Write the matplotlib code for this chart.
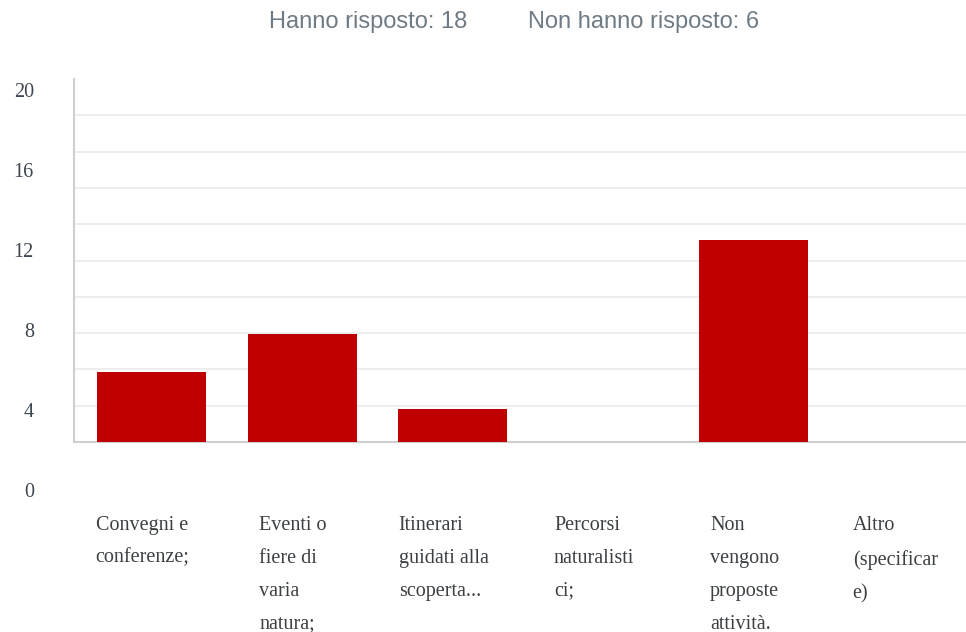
import matplotlib
matplotlib.use("Agg")
import matplotlib.pyplot as plt
import numpy as np

categories = [
    "Convegni e\nconferenze;",
    "Eventi o\nfiere di\nvaria\nnatura;",
    "Itinerari\nguidati alla\nscoperta...",
    "Percorsi\nnaturalisti\nci;",
    "Non\nvengono\nproposte\nattività.",
    "Altro\n(specificar\ne)",
]
counts = [6, 8, 4, 0, 13, 0]
tick_values = [0, 4, 8, 12, 16, 20]
answered = 18
not_answered = 6

W, H = 966, 632
fig = plt.figure(figsize=(W / 100, H / 100), dpi=100)


def frac(x0, y0, x1, y1):
    # pixel box (top-left origin) -> figure fraction rect
    return [x0 / W, 1 - y1 / H, (x1 - x0) / W, (y1 - y0) / H]


ax = fig.add_axes(frac(74, 79, 966, 442))
x = np.arange(len(categories))
ax.bar(x, counts, width=0.724, color="#c00000", zorder=3)

ymin, ymax = 2.26, 21.6
ax.set_ylim(ymin, ymax)
ax.set_xlim(-0.515, 5.41)

grid_y = np.linspace(ymin, ymax, 11)[1:-1]
for gy in grid_y:
    ax.axhline(gy, color="#ececec", lw=1.3, zorder=1)

ax.set_xticks([])
ax.set_yticks([])
for side in ["top", "right"]:
    ax.spines[side].set_visible(False)
for side in ["left", "bottom"]:
    ax.spines[side].set_color("#cfcfcf")
    ax.spines[side].set_linewidth(1.5)

serif = ["Liberation Serif", "DejaVu Serif"]
trans = ax.get_xaxis_transform()
for i, lab in enumerate(categories):
    ax.text(i - 0.06, -0.203, lab, transform=trans, ha="center", va="top",
            multialignment="left", fontsize=14.5, family=serif,
            color="#3c4043", linespacing=2.0)

# value labels column (drawn on its own axis)
lab_ax = fig.add_axes(frac(38, 90, 39, 490))
lab_ax.set_ylim(0, 20)
lab_ax.set_yticks(tick_values)
lab_ax.set_yticklabels([str(v) for v in tick_values], family=serif,
                       fontsize=14.5, color="#3d4752")
lab_ax.tick_params(axis="y", length=0, pad=3)
lab_ax.set_xticks([])
lab_ax.set_frame_on(False)

sans = ["Liberation Sans", "DejaVu Sans"]
fig.text(368 / W, 1 - 22 / H, f"Hanno risposto: {answered}", ha="center",
         va="center", fontsize=17, family=sans, color="#6f7b84")
fig.text(644 / W, 1 - 22 / H, f"Non hanno risposto: {not_answered}",
         ha="center", va="center", fontsize=17, family=sans, color="#6f7b84")

fig.savefig("out.png", dpi=100)
